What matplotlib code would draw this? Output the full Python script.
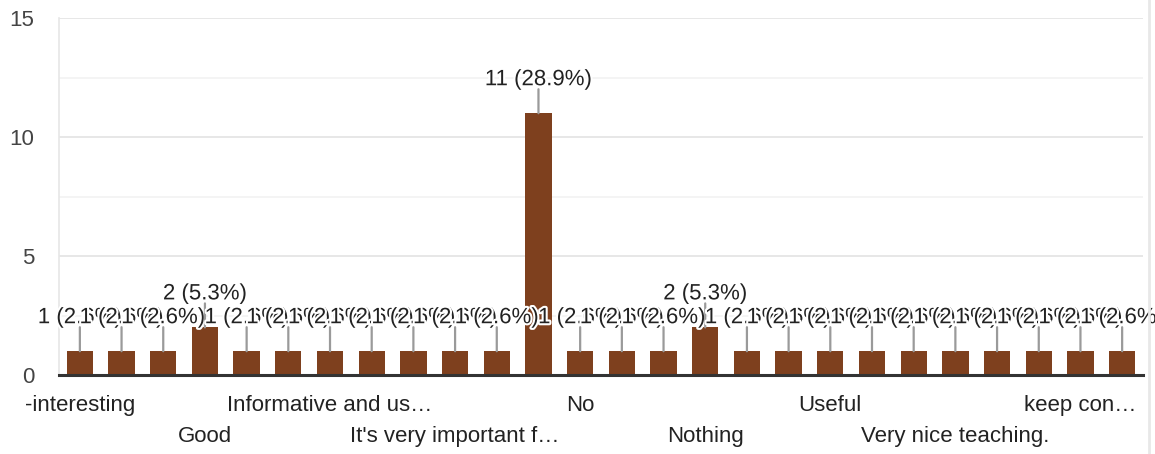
import matplotlib
matplotlib.use("Agg")
import matplotlib.pyplot as plt
import matplotlib.patheffects as pe
from matplotlib.transforms import blended_transform_factory

plt.rcParams['font.family'] = ['Liberation Sans', 'DejaVu Sans']

# answers (sorted like the form summary); only every 3rd label is printed
answers = ["-interesting", "Awesome", "Excellent", "Good", "Good session", "Helpful",
           "Informative and us\u2026", "Informative session", "Interesting",
           "It's very important f\u2026", "Nice session", "Nil", "No", "No comments",
           "None", "Nothing", "Nothing to say", "Superb", "Useful", "Very good",
           "Very informative", "Very nice teaching.", "Very useful", "Well explained",
           "keep con\u2026", "nothing"]
counts = [1, 1, 1, 2, 1, 1, 1, 1, 1, 1, 1, 11, 1, 1, 1, 2, 1, 1, 1, 1, 1, 1, 1, 1, 1, 1]
yticks = [0, 5, 10, 15]

total = sum(counts)
bar_color = '#7e401e'
fs = 16

fig = plt.figure(figsize=(11.55, 4.54), dpi=100)
ax = fig.add_axes([0.0511, 0.174, 0.9385, 0.7863])

x = list(range(len(counts)))
ax.bar(x, counts, width=0.63, color=bar_color, zorder=3)

ax.set_xlim(-0.5, len(counts) - 0.5)
ax.set_ylim(0, 15)
ax.set_yticks(yticks)
ax.set_yticks([2.5, 7.5, 12.5], minor=True)
ax.grid(axis='y', which='major', color='#e3e3e3', lw=1.2, zorder=0)
ax.grid(axis='y', which='minor', color='#f2f2f2', lw=1.2, zorder=0)
ax.tick_params(axis='y', which='both', length=0, pad=18, labelsize=fs, labelcolor='#444444')
ax.tick_params(axis='x', length=0)
ax.set_xticks([])
for s in ['top', 'right']:
    ax.spines[s].set_visible(False)
ax.spines['left'].set_color('#e6e6e6')
ax.spines['left'].set_linewidth(1.2)
ax.spines['bottom'].set_color('#333333')
ax.spines['bottom'].set_linewidth(2.2)
ax.spines['bottom'].set_zorder(5)

# value labels with leader lines, white halo, later labels drawn over earlier ones
for i, c in enumerate(counts):
    lbl = "{} ({:.1f}%)".format(c, c / total * 100)
    ax.annotate('', xy=(i, c), xytext=(0, 24), textcoords='offset pixels',
                arrowprops=dict(arrowstyle='-', color='#9a9a9a', lw=1.6,
                                shrinkA=0, shrinkB=0), zorder=4 + i * 0.01)
    ax.annotate(lbl, xy=(i, c), xytext=(0, 28), textcoords='offset pixels',
                ha='center', va='baseline', fontsize=fs, color='#222222',
                zorder=4 + i * 0.01 + 0.005, annotation_clip=False,
                path_effects=[pe.withStroke(linewidth=3, foreground='white')])

# category labels in two staggered rows
trans = blended_transform_factory(ax.transData, ax.transAxes)
for k, i in enumerate(range(0, len(answers), 3)):
    row_y = -0.086 if k % 2 == 0 else -0.171
    ax.text(i, row_y, answers[i], transform=trans, ha='center', va='center',
            fontsize=fs, color='#222222')

fig.add_artist(plt.Line2D([0.9945, 0.9945], [0, 1], color='#e8e8e8', lw=2))

fig.savefig('out.png', dpi=100)
